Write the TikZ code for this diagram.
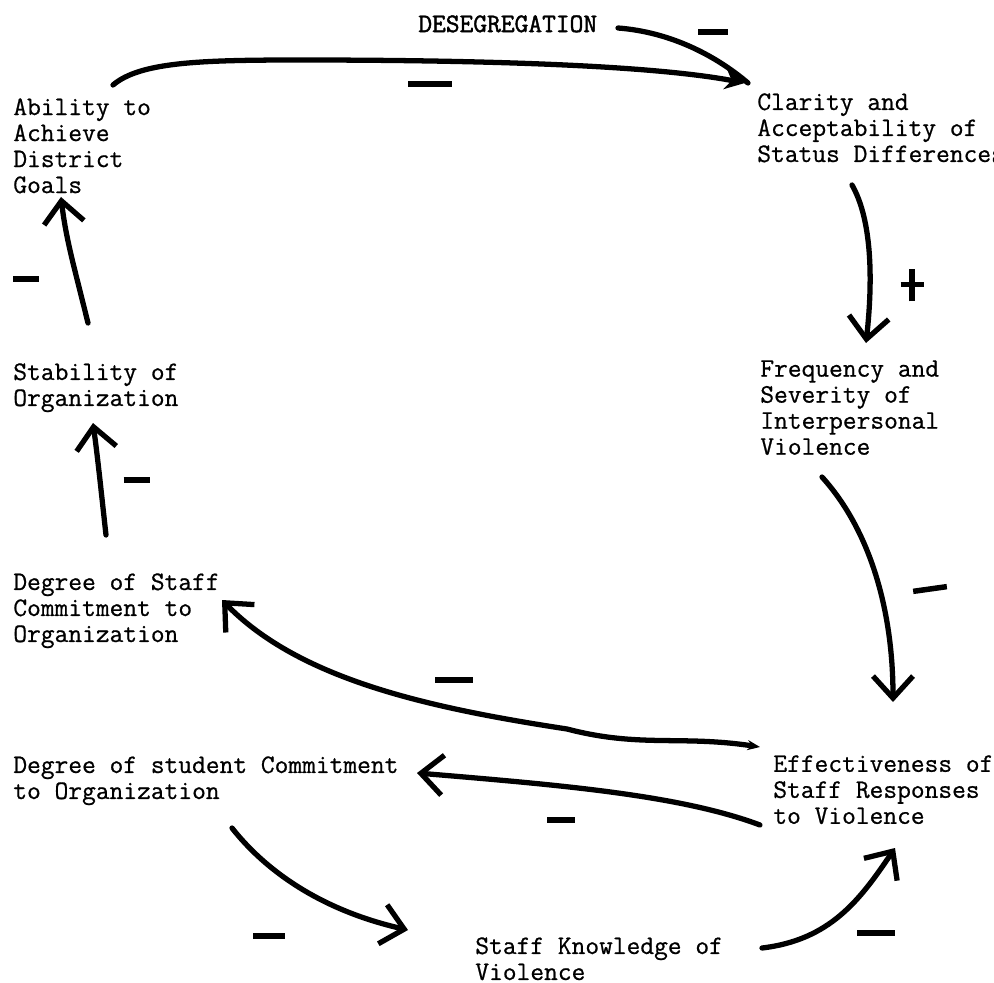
\documentclass[tikz,border=0pt]{standalone}
\usepackage{fontspec}
\usepackage{tikz}
\usetikzlibrary{arrows.meta,calc}

\newfontfamily\typefont[FakeBold=0.7]{Latin Modern Mono}
\newfontfamily\typeheavy[FakeBold=1.6]{Latin Modern Mono}
\newcommand{\negmark}[1][0.64cm]{\rule{#1}{0.11cm}}
\newcommand{\posmark}{\makebox[0.46cm]{\rule[-0.28cm]{0.11cm}{0.66cm}}\llap{\rule{0.46cm}{0.11cm}}}

\begin{document}
\begin{tikzpicture}[
  x=0.02cm, y=-0.02cm,
  var/.style={
    anchor=north west, inner sep=0pt, align=left,
    font=\typefont\fontsize{15.2}{14.8}\selectfont
  },
  link/.style={
    line width=3pt, line cap=round, line join=round,
    -{Straight Barb[length=4.4mm,width=8mm]}
  },
  sign/.style={inner sep=0pt},
]
\useasboundingbox (0,0) rectangle (994,983);

\node[var] (abil) at (13,98) {Ability to\\Achieve\\District\\Goals};
\node[var, font=\typeheavy\fontsize{15.2}{14.8}\selectfont] (deseg) at (418,15) {DESEGREGATION};
\node[var] (clar) at (757,93) {Clarity and\\Acceptability of\\Status Differences};
\node[var] (freq) at (760,360) {Frequency and\\Severity of\\Interpersonal\\Violence};
\node[var] (stab) at (13,363) {Stability of\\Organization};
\node[var] (staffc) at (13,573) {Degree of Staff\\Commitment to\\Organization};
\node[var] (studc) at (13,756) {Degree of student Commitment\\to Organization};
\node[var] (effect) at (773,755) {Effectiveness of\\Staff Responses\\to Violence};
\node[var] (know) at (475,937) {Staff Knowledge of\\Violence};

\draw[link, -{Stealth[length=4mm,width=4mm]}] ([shift={(100,-13)}]abil.north west)
  .. controls (140,62) and (200,60) .. (300,60)
  .. controls (480,60) and (650,65) .. ([shift={(-12,-10)}]clar.north west);
\draw[link, -] ([shift={(200,13)}]deseg.north west)
  .. controls (670,32) and (715,55) .. ([shift={(-9,-10)}]clar.north west);
\draw[link] ([shift={(95,92)}]clar.north west)
  .. controls (872,220) and (873,280) .. ([shift={(106,-17)}]freq.north west);
\draw[link] ([shift={(62,117)}]freq.north west)
  .. controls (870,530) and (893,610) .. ([shift={(120,-53)}]effect.north west);
\draw[link, {Stealth[length=2.5mm,width=2mm]}-{Straight Barb[length=4.4mm,width=8mm]}]
  ([shift={(-13,-8)}]effect.north west)
  .. controls (680,735) and (640,748) .. (567,729)
  .. controls (430,708) and (300,680) .. ([shift={(209,27)}]staffc.north west);
\draw[link] ([shift={(-13,70)}]effect.north west)
  .. controls (680,795) and (560,785) .. ([shift={(404,17)}]studc.north west);
\draw[link] ([shift={(219,72)}]studc.north west)
  .. controls (265,870) and (320,910) .. ([shift={(-67,-7)}]know.north west);
\draw[link] ([shift={(287,11)}]know.north west)
  .. controls (830,940) and (860,900) .. ([shift={(122,93)}]effect.north west);
\draw[link] ([shift={(93,-38)}]staffc.north west)
  .. controls (101,490) and (98,460) .. ([shift={(80,60)}]stab.north west);
\draw[link] ([shift={(75,-40)}]stab.north west)
  .. controls (75,270) and (66,240) .. ([shift={(48,99)}]abil.north west);

\node[sign] (s1) at (430,84) {\negmark[0.88cm]};
\node[sign] (s2) at (713,32) {\negmark[0.6cm]};
\node[sign] (s3) at (912,285) {\posmark};
\node[sign, rotate=8] (s4) at (930,589) {\negmark[0.68cm]};
\node[sign] (s5) at (454,680) {\negmark[0.76cm]};
\node[sign] (s6) at (561,820) {\negmark[0.56cm]};
\node[sign] (s7) at (269,936) {\negmark[0.64cm]};
\node[sign] (s8) at (876,933) {\negmark[0.76cm]};
\node[sign] (s9) at (137,480) {\negmark[0.54cm]};
\node[sign] (s10) at (26,279) {\negmark[0.52cm]};

\end{tikzpicture}
\end{document}
